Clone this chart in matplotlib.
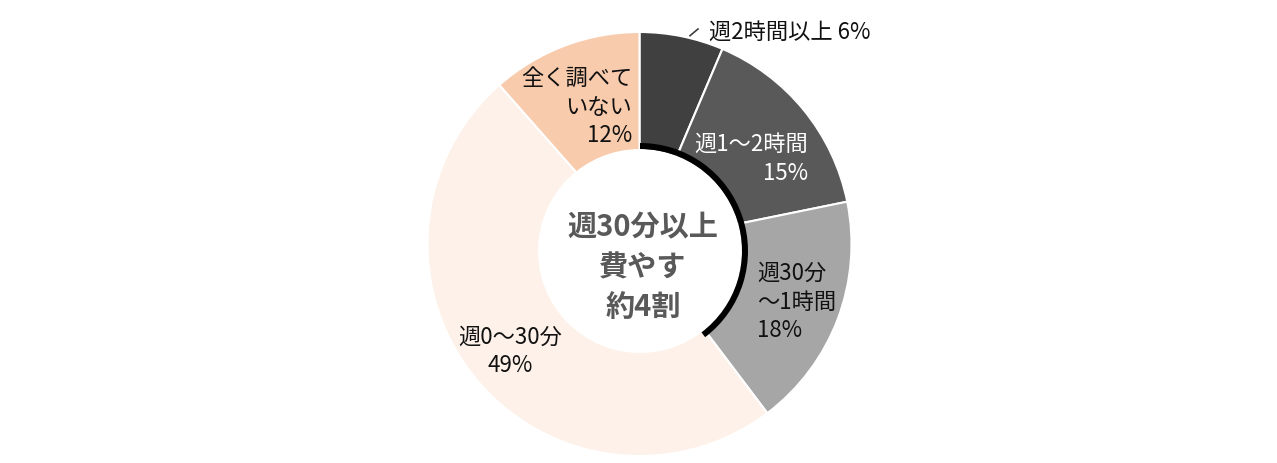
import matplotlib
matplotlib.use("Agg")
import matplotlib.pyplot as plt
from matplotlib.patches import Wedge, Circle

plt.rcParams['font.family'] = ['Noto Sans CJK JP', 'DejaVu Sans']

# ---- data ----
categories = ['週2時間以上', '週1〜2時間', '週30分〜1時間', '週0〜30分', '全く調べていない']
shares = [6.4, 15.4, 17.9, 48.8, 11.5]       # slice sizes
label_pcts = [6, 15, 18, 49, 12]              # rounded percentages shown in labels
label_names = [
    ['週2時間以上'],
    ['週1〜2時間'],
    ['週30分', '〜1時間'],
    ['週0〜30分'],
    ['全く調べて', 'いない'],
]
colors = ['#404040', '#595959', '#a6a6a6', '#fdf1e9', '#f8cbad']
center_lines = ['週30分以上', '費やす', '約4割']
highlight_count = 3  # first three categories = 週30分以上

W, H = 1277, 464
fig = plt.figure(figsize=(W / 100, H / 100), dpi=100)
ax = fig.add_axes([0, 0, 1, 1])

def py(y):
    return H - y

R = 212
cx, cy = 639.5, py(245)
ax.pie(shares, colors=colors, startangle=90, counterclock=False,
       radius=R, center=(cx, cy),
       wedgeprops=dict(width=R - 88, edgecolor='white', linewidth=1.5))

# inner white circle and highlight arc
icx, icy = 640, py(252)
ax.add_patch(Circle((icx, icy), 102, facecolor='white', edgecolor='none', zorder=3))
frac = sum(shares[:highlight_count]) / sum(shares)
ax.add_patch(Wedge((icx, icy), 108, 90 - 360 * frac, 90, width=6,
                   facecolor='black', edgecolor='none', zorder=4))

# labels
fs = 16
specs = [
    dict(x=709, y=32.5, ha='left', color='#111111'),
    dict(x=808, y=144.5, ha='right', color='white'),
    dict(x=757, y=273.5, ha='left', color='#111111'),
    dict(x=510, y=337.5, ha='center', color='#111111'),
    dict(x=632, y=78.5, ha='right', color='#111111'),
]
step = 28.5
for i, (names, pct, sp) in enumerate(zip(label_names, label_pcts, specs)):
    if i == 0:
        lines = [f'{names[0]} {pct}%']
    else:
        lines = names + [f'{pct}%']
    for j, ln in enumerate(lines):
        ax.text(sp['x'], py(sp['y'] + j * step), ln, ha=sp['ha'], va='center',
                fontsize=fs, color=sp['color'], zorder=5)

# leader line for the small slice
ax.plot([690, 698], [py(36.7), py(30)], color='#404040', lw=1.2, zorder=5)

# center text
for i, ln in enumerate(center_lines):
    ax.text(643, py(227 + i * 40), ln, ha='center', va='center', fontsize=21,
            fontweight='bold', color='#595959', zorder=6)

ax.set_xlim(0, W)
ax.set_ylim(0, H)
ax.set_aspect('auto')
ax.axis('off')
fig.savefig('out.png', dpi=100, facecolor='white')
